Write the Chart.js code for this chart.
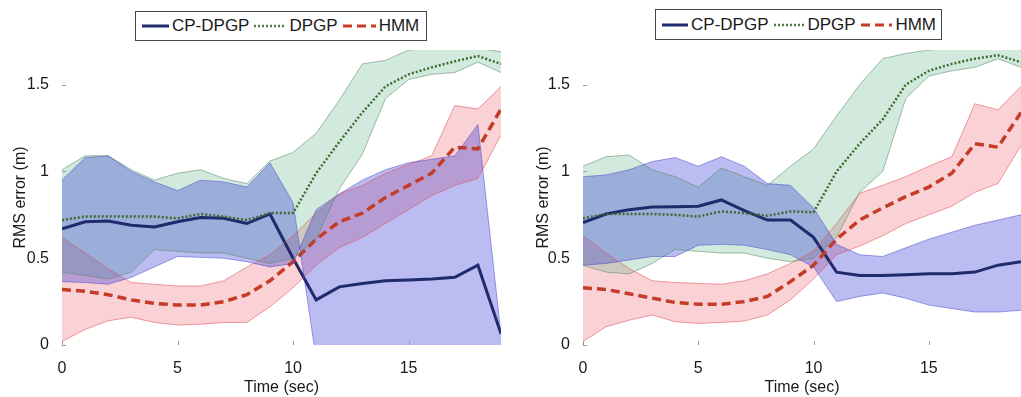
<!DOCTYPE html>
<html>
<head>
<meta charset="utf-8">
<script src="https://cdn.jsdelivr.net/npm/chart.js@4.4.1/dist/chart.umd.min.js"></script>
<style>
    body {
        margin: 0;
        width: 1021px;
        height: 397px;
        background: #fff;
        position: relative;
        overflow: hidden;
        font-family: "Liberation Sans", Arial, sans-serif;
        color: #1a1a1a;
    }
    canvas { position: absolute; top: 0; }
    #chart1 { left: 0; }
    #chart2 { left: 521px; }
    .legend {
        position: absolute;
        height: 29px;
        border: 1px solid #444;
        background: #fff;
        display: flex;
        align-items: center;
        font-size: 17px;
        white-space: nowrap;
        box-sizing: border-box;
        padding-left: 6px;
    }
    .legend svg { display: block; margin-right: 3px; }
    .legend .txt { margin-right: 5px; }
</style>
</head>
<body>

<canvas id="chart1" width="510" height="397"></canvas>
<canvas id="chart2" width="500" height="397"></canvas>

<div class="legend" style="left:135px; top:11px; width:292px; height:30px;">
    <svg width="27" height="8"><line x1="0" y1="4" x2="27" y2="4" stroke="#1f2b6c" stroke-width="3"/></svg>
    <span class="txt">CP-DPGP</span>
    <svg width="32" height="8"><line x1="0" y1="4" x2="32" y2="4" stroke="#4f7a45" stroke-width="2.5" stroke-dasharray="2 2"/></svg>
    <span class="txt">DPGP</span>
    <svg width="33" height="8"><line x1="0" y1="4" x2="33" y2="4" stroke="#c43c28" stroke-width="3" stroke-dasharray="9 5"/></svg>
    <span class="txt">HMM</span>
</div>
<div class="legend" style="left:655px; top:9px; width:287px; height:31px;">
    <svg width="27" height="8"><line x1="0" y1="4" x2="27" y2="4" stroke="#1f2b6c" stroke-width="3"/></svg>
    <span class="txt">CP-DPGP</span>
    <svg width="32" height="8"><line x1="0" y1="4" x2="32" y2="4" stroke="#4f7a45" stroke-width="2.5" stroke-dasharray="2 2"/></svg>
    <span class="txt">DPGP</span>
    <svg width="33" height="8"><line x1="0" y1="4" x2="33" y2="4" stroke="#c43c28" stroke-width="3" stroke-dasharray="9 5"/></svg>
    <span class="txt">HMM</span>
</div>

<script>
// eixo do tempo e marcas dos eixos
const time = [0, 1, 2, 3, 4, 5, 6, 7, 8, 9, 10, 11, 12, 13, 14, 15, 16, 17, 18, 19];
const xTicks = [0, 5, 10, 15];
const yTicks = [0, 0.5, 1, 1.5];

// painel da esquerda
const cpMean1 = [0.67, 0.71, 0.715, 0.69, 0.68, 0.71, 0.735, 0.73, 0.70, 0.755, 0.50, 0.26, 0.335, 0.355, 0.37, 0.375, 0.38, 0.39, 0.46, 0.065];
const cpEdgeA1 = [0.95, 1.08, 1.09, 1.00, 0.94, 0.89, 0.95, 0.94, 0.91, 1.05, 0.82, -0.08, -0.3, -0.3, -0.3, -0.3, -0.3, -0.3, -0.3, -0.3];
const cpEdgeB1 = [0.365, 0.36, 0.35, 0.39, 0.45, 0.51, 0.505, 0.50, 0.48, 0.45, 0.47, 0.78, 0.87, 0.95, 1.01, 1.05, 1.07, 1.09, 1.27, 0.06];
const dpMean1 = [0.72, 0.74, 0.74, 0.74, 0.74, 0.73, 0.755, 0.74, 0.72, 0.76, 0.76, 0.99, 1.17, 1.34, 1.49, 1.56, 1.60, 1.635, 1.665, 1.62];
const dpHi1 = [1.01, 1.09, 1.09, 1.01, 0.95, 0.99, 1.01, 0.96, 0.93, 1.06, 1.11, 1.22, 1.41, 1.62, 1.64, 1.70, 1.71, 1.71, 1.71, 1.69];
const dpLo1 = [0.42, 0.40, 0.38, 0.42, 0.55, 0.54, 0.53, 0.53, 0.50, 0.47, 0.50, 0.61, 0.90, 1.10, 1.42, 1.53, 1.56, 1.57, 1.63, 1.57];
const hmmMean1 = [0.32, 0.31, 0.29, 0.26, 0.24, 0.23, 0.23, 0.25, 0.29, 0.37, 0.48, 0.61, 0.71, 0.76, 0.85, 0.92, 0.99, 1.14, 1.13, 1.36];
const hmmHi1 = [0.62, 0.53, 0.44, 0.36, 0.35, 0.34, 0.34, 0.37, 0.45, 0.52, 0.63, 0.76, 0.87, 0.92, 0.99, 1.04, 1.09, 1.38, 1.36, 1.49];
const hmmLo1 = [0.02, 0.09, 0.14, 0.16, 0.13, 0.115, 0.12, 0.13, 0.13, 0.22, 0.33, 0.46, 0.56, 0.62, 0.70, 0.78, 0.86, 0.92, 0.96, 1.21];

// painel da direita
const cpMean2 = [0.705, 0.755, 0.78, 0.795, 0.797, 0.80, 0.836, 0.775, 0.72, 0.72, 0.62, 0.42, 0.40, 0.40, 0.405, 0.41, 0.41, 0.42, 0.46, 0.48];
const cpEdgeA2 = [0.97, 0.98, 1.01, 1.057, 1.08, 1.03, 1.085, 1.03, 0.93, 0.92, 0.79, 0.58, 0.52, 0.51, 0.56, 0.61, 0.65, 0.69, 0.72, 0.75];
const cpEdgeB2 = [0.46, 0.47, 0.49, 0.51, 0.51, 0.575, 0.58, 0.575, 0.55, 0.52, 0.45, 0.25, 0.28, 0.30, 0.27, 0.23, 0.21, 0.19, 0.19, 0.20];
const dpMean2 = [0.73, 0.755, 0.755, 0.755, 0.75, 0.74, 0.77, 0.76, 0.745, 0.77, 0.765, 1.0, 1.16, 1.30, 1.50, 1.58, 1.62, 1.65, 1.67, 1.63];
const dpHi2 = [1.03, 1.085, 1.095, 1.01, 0.97, 0.91, 1.02, 0.97, 0.92, 1.03, 1.13, 1.32, 1.50, 1.65, 1.68, 1.70, 1.71, 1.72, 1.72, 1.70];
const dpLo2 = [0.46, 0.42, 0.41, 0.47, 0.55, 0.54, 0.53, 0.53, 0.50, 0.48, 0.50, 0.62, 0.88, 1.00, 1.42, 1.55, 1.58, 1.60, 1.65, 1.60];
const hmmMean2 = [0.33, 0.32, 0.295, 0.27, 0.245, 0.235, 0.235, 0.25, 0.28, 0.365, 0.46, 0.61, 0.72, 0.79, 0.855, 0.91, 0.99, 1.16, 1.14, 1.34];
const hmmHi2 = [0.63, 0.53, 0.44, 0.37, 0.36, 0.355, 0.35, 0.37, 0.41, 0.47, 0.54, 0.70, 0.875, 0.92, 0.97, 1.03, 1.085, 1.39, 1.355, 1.49];
const hmmLo2 = [0.02, 0.105, 0.143, 0.173, 0.134, 0.124, 0.13, 0.138, 0.173, 0.26, 0.38, 0.52, 0.57, 0.63, 0.70, 0.75, 0.80, 0.88, 0.93, 1.15];

Chart.defaults.font.family = '"Liberation Sans", Arial, sans-serif';
Chart.defaults.color = '#1a1a1a';

const pts = arr => time.map((t, i) => ({ x: t, y: arr[i] }));

// faixa: primeira borda preenche ate a seguinte ('+1')
function band(a, b, fill, edge) {
    return [
        { data: pts(a), fill: '+1', backgroundColor: fill, borderColor: edge, borderWidth: 1 },
        { data: pts(b), fill: false, borderColor: edge, borderWidth: 1 },
    ];
}

// marquinhas dos eixos para dentro, como no matlab
const innerTicks = {
    id: 'innerTicks',
    afterDatasetsDraw(chart) {
        const { ctx, chartArea: a, scales: { x, y } } = chart;
        ctx.save();
        ctx.strokeStyle = '#999';
        ctx.lineWidth = 1;
        ctx.beginPath();
        x.ticks.forEach(t => {
            const px = Math.round(x.getPixelForValue(t.value)) + 0.5;
            ctx.moveTo(px, a.bottom);
            ctx.lineTo(px, a.bottom - 4);
        });
        y.ticks.forEach(t => {
            const py = Math.round(y.getPixelForValue(t.value)) + 0.5;
            ctx.moveTo(a.left, py);
            ctx.lineTo(a.left + 4, py);
        });
        ctx.stroke();
        ctx.restore();
    }
};

function makePanel(id, rightPad, titlePad, s) {
    const ctx = document.getElementById(id).getContext('2d');
    return new Chart(ctx, {
        type: 'line',
        data: {
            datasets: [
                ...band(s.cpA, s.cpB, 'rgba(35, 38, 210, 0.31)', 'rgba(70, 70, 205, 0.5)'),
                ...band(s.dpHi, s.dpLo, 'rgba(88, 178, 132, 0.28)', 'rgba(90, 135, 100, 0.55)'),
                ...band(s.hmmHi, s.hmmLo, 'rgba(238, 88, 105, 0.28)', 'rgba(225, 80, 90, 0.55)'),
                { data: pts(s.hmm), borderColor: '#c43c28', borderWidth: 3.5, borderDash: [9, 5], fill: false },
                { data: pts(s.dp), borderColor: '#3d6b2d', borderWidth: 2.5, borderDash: [2, 2], fill: false },
                { data: pts(s.cp), borderColor: '#1f2b6c', borderWidth: 3, fill: false },
            ],
        },
        options: {
            animation: false,
            responsive: false,
            layout: { padding: { left: 0, right: rightPad, top: 50, bottom: 0 } },
            elements: { point: { radius: 0 }, line: { tension: 0 } },
            plugins: {
                legend: { display: false },
                tooltip: { enabled: false },
                filler: { drawTime: 'beforeDatasetsDraw' },
            },
            scales: {
                x: {
                    type: 'linear',
                    min: 0,
                    max: 19,
                    afterBuildTicks: sc => { sc.ticks = xTicks.map(v => ({ value: v })); },
                    afterFit: sc => { sc.height = 52; },
                    grid: { display: false },
                    border: { display: false },
                    ticks: { padding: 6, font: { size: 16 }, maxRotation: 0, callback: v => String(v) },
                    title: { display: true, text: 'Time (sec)', font: { size: 16 }, padding: 0 },
                },
                y: {
                    min: 0,
                    max: 1.7,
                    afterBuildTicks: sc => { sc.ticks = yTicks.map(v => ({ value: v })); },
                    afterFit: sc => { sc.width = 62; },
                    grid: { display: false },
                    border: { display: false },
                    ticks: { padding: 5, font: { size: 16 }, callback: v => String(v) },
                    title: { display: true, text: 'RMS error (m)', font: { size: 16 }, padding: { top: titlePad, bottom: 0 } },
                },
            },
        },
        plugins: [innerTicks],
    });
}

makePanel('chart1', 9, 11, {
    cp: cpMean1, cpA: cpEdgeA1, cpB: cpEdgeB1,
    dp: dpMean1, dpHi: dpHi1, dpLo: dpLo1,
    hmm: hmmMean1, hmmHi: hmmHi1, hmmLo: hmmLo1,
});

makePanel('chart2', 0, 13, {
    cp: cpMean2, cpA: cpEdgeA2, cpB: cpEdgeB2,
    dp: dpMean2, dpHi: dpHi2, dpLo: dpLo2,
    hmm: hmmMean2, hmmHi: hmmHi2, hmmLo: hmmLo2,
});
</script>
</body>
</html>
